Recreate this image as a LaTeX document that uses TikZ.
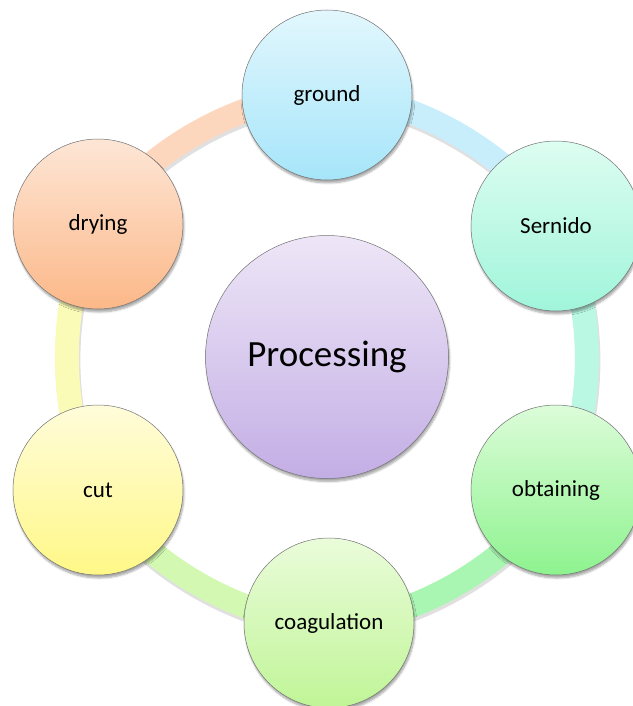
\documentclass[tikz,border=0pt]{standalone}
\usepackage{fontspec}
\setmainfont{Carlito}
\usetikzlibrary{shadows.blur}
\pgfdeclarelayer{bg}
\pgfsetlayers{bg,main}
\definecolor{gndT}{HTML}{E2F7FD}
\definecolor{gndB}{HTML}{A6E5FA}
\definecolor{serT}{HTML}{DDFDF1}
\definecolor{serB}{HTML}{A0F5DA}
\definecolor{obtT}{HTML}{DCFCD9}
\definecolor{obtB}{HTML}{8EF38F}
\definecolor{coaT}{HTML}{EAFCDA}
\definecolor{coaB}{HTML}{C0F597}
\definecolor{cutT}{HTML}{FFFCDA}
\definecolor{cutB}{HTML}{FFF887}
\definecolor{dryT}{HTML}{FDE6D6}
\definecolor{dryB}{HTML}{FCB888}
\definecolor{proT}{HTML}{EEE6F7}
\definecolor{proB}{HTML}{C3AEE5}
\definecolor{bDG}{HTML}{FDD7BD}
\definecolor{bGS}{HTML}{C8EEFC}
\definecolor{bSO}{HTML}{BAF8E3}
\definecolor{bOC}{HTML}{A9F5B2}
\definecolor{bCC}{HTML}{D2F8B2}
\definecolor{bCD}{HTML}{FBFBB8}
\begin{document}
\begin{tikzpicture}[x=1pt,y=-1pt,
  stage/.style={circle, minimum size=170pt, inner sep=0pt, draw=black!55, line width=0.5pt,
    font=\fontsize{23}{28}\selectfont,
    blur shadow={shadow xshift=1pt, shadow yshift=-3pt, shadow blur steps=6, shadow opacity=35}},
  hub/.style={stage, minimum size=243pt, font=\fontsize{37}{44}\selectfont},
  band/.style={line width=24pt, looseness=0.8},
  bandshadow/.style={line width=25pt, looseness=0.8, draw=black, opacity=0.12}
]
\useasboundingbox (0,0) rectangle (632,706);
\node[stage, top color=gndT, bottom color=gndB] (ground) at (327,95) {ground};
\node[stage, top color=serT, bottom color=serB] (sernido) at (556,226) {Sernido};
\node[stage, top color=obtT, bottom color=obtB] (obtaining) at (556,490) {obtaining};
\node[stage, top color=coaT, bottom color=coaB] (coag) at (329,623) {coagulation};
\node[stage, top color=cutT, bottom color=cutB] (cut) at (98,490) {cut};
\node[stage, top color=dryT, bottom color=dryB] (drying) at (98,224) {drying};
\node[hub, top color=proT, bottom color=proB] (proc) at (327,357) {Processing};
\begin{pgfonlayer}{bg}
\begin{scope}[transform canvas={xshift=1pt,yshift=-3pt}]
\draw[bandshadow] (drying.center) to[bend left=30] (ground.center);
\draw[bandshadow] (ground.center) to[bend left=30] (sernido.center);
\draw[bandshadow] (sernido.center) to[bend left=30] (obtaining.center);
\draw[bandshadow] (obtaining.center) to[bend left=30] (coag.center);
\draw[bandshadow] (coag.center) to[bend left=30] (cut.center);
\draw[bandshadow] (cut.center) to[bend left=30] (drying.center);
\end{scope}
\draw[band, draw=bDG] (drying.center) to[bend left=30] (ground.center);
\draw[band, draw=bGS] (ground.center) to[bend left=30] (sernido.center);
\draw[band, draw=bSO] (sernido.center) to[bend left=30] (obtaining.center);
\draw[band, draw=bOC] (obtaining.center) to[bend left=30] (coag.center);
\draw[band, draw=bCC] (coag.center) to[bend left=30] (cut.center);
\draw[band, draw=bCD] (cut.center) to[bend left=30] (drying.center);
\end{pgfonlayer}
\end{tikzpicture}
\end{document}
